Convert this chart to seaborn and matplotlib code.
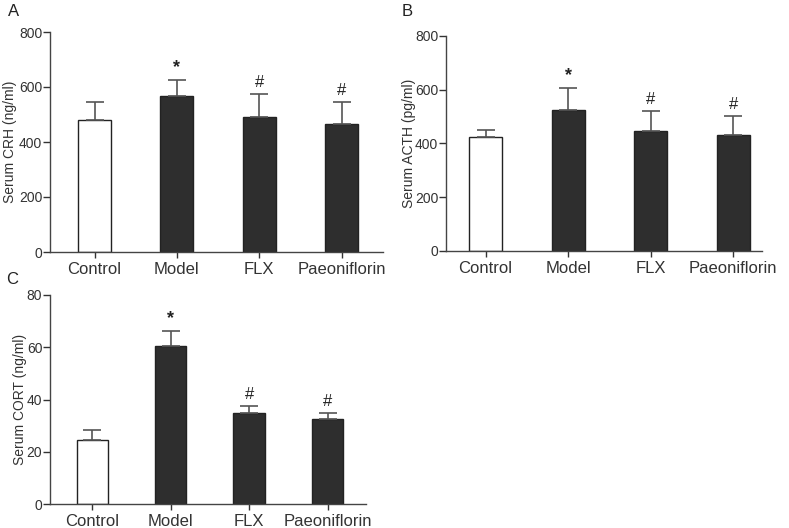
import matplotlib
matplotlib.use("Agg")
import matplotlib.pyplot as plt
import seaborn as sns
import numpy as np

groups = ["Control", "Model", "FLX", "Paeoniflorin"]

crh_mean = [481, 569, 491, 464]
crh_err = [63, 57, 83, 81]
acth_mean = [424, 526, 446, 432]
acth_err = [26, 79, 76, 69]
cort_mean = [24.5, 60.5, 35.0, 32.7]
cort_err = [4.0, 5.6, 2.6, 2.2]

marks = ["", "*", "#", "#"]

sns.set_style("ticks")
plt.rcParams["font.family"] = ["Liberation Sans", "DejaVu Sans"]

W, H = 789, 528
fig = plt.figure(figsize=(W / 100, H / 100), dpi=100)


def px_rect(left, top, right, bottom):
    return [left / W, 1 - bottom / H, (right - left) / W, (bottom - top) / H]


panels = [
    ("A", px_rect(50, 32, 383, 252), crh_mean, crh_err, "Serum CRH (ng/ml)", 800, 200, (-0.54, 3.5), 17, (8, 4)),
    ("B", px_rect(446, 36, 762, 251), acth_mean, acth_err, "Serum ACTH (pg/ml)", 800, 200, (-0.48, 3.35), 416, (402, 4)),
    ("C", px_rect(50, 295, 366, 504), cort_mean, cort_err, "Serum CORT (ng/ml)", 80, 20, (-0.54, 3.49), 27, (6, 272)),
]

colors = ["white", "#2e2e2e", "#2e2e2e", "#2e2e2e"]

for letter, rect, means, errs, ylabel, ymax, step, xl, ylab_x, letter_xy in panels:
    ax = fig.add_axes(rect)
    sns.barplot(x=groups, y=means, hue=groups, palette=colors, legend=False,
                edgecolor="#222222", linewidth=1.0, width=0.4, ax=ax, errorbar=None)
    xs = np.arange(len(groups))
    ax.errorbar(xs, means, yerr=[np.zeros(len(errs)), errs], fmt="none",
                ecolor="#555555", elinewidth=1.2, capsize=6.5, capthick=1.2, zorder=1)
    for x, m, e, t in zip(xs, means, errs, marks):
        if t:
            ax.annotate(t, (x, m + e), xytext=(0, 3), textcoords="offset points",
                        ha="center", va="bottom", fontsize=13 if t == "*" else 12,
                        fontweight="bold" if t == "*" else "normal", color="#222222")
    ax.set_ylim(0, ymax)
    ax.set_xlim(*xl)
    ax.set_yticks(np.arange(0, ymax + 1, step))
    ax.set_ylabel(ylabel, fontsize=10, color="#333333")
    left_px = rect[0] * W
    width_px = rect[2] * W
    ax.yaxis.set_label_coords((ylab_x - left_px) / width_px, 0.5)
    ax.set_xlabel("")
    ax.tick_params(axis="y", labelsize=10, colors="#333333", length=5, width=1,
                   direction="out", pad=0.5)
    ax.tick_params(axis="x", labelsize=12, colors="#333333", length=4, width=1,
                   direction="out", pad=3)
    for s in ["top", "right"]:
        ax.spines[s].set_visible(False)
    for s in ["left", "bottom"]:
        ax.spines[s].set_color("#444444")
        ax.spines[s].set_linewidth(1)
    fig.text(letter_xy[0] / W, 1 - letter_xy[1] / H, letter, fontsize=12,
             color="#222222", ha="left", va="top")

fig.savefig("out.png", dpi=100)
